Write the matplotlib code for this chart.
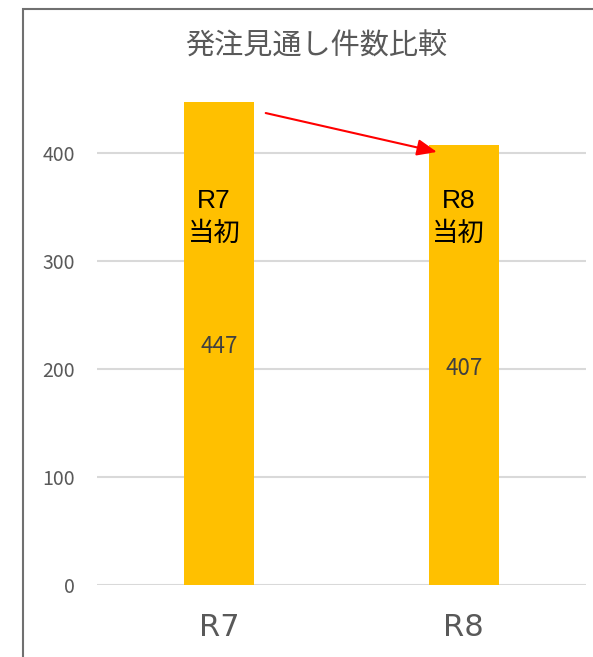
import matplotlib
matplotlib.use("Agg")
import matplotlib.pyplot as plt
from matplotlib.patches import Rectangle

plt.rcParams['font.family'] = ['Noto Sans CJK JP', 'DejaVu Sans']

categories = ["R7", "R8"]
values = [447, 407]
bar_notes = ["R7\n当初", "R8\n当初"]
title = "発注見通し件数比較"
yticks = [0, 100, 200, 300, 400]

W, H = 593, 657
fig = plt.figure(figsize=(W / 100, H / 100), dpi=100)
ax = fig.add_axes([97 / W, (H - 585) / H, 489 / W, (585 - 99) / H])

x = list(range(len(categories)))
ax.bar(x, values, width=0.285, color="#FFC000", zorder=2)
ax.set_xlim(-0.5, 1.5)
ax.set_ylim(0, 450)
ax.set_yticks(yticks)
ax.set_xticks(x)
ax.set_xticklabels(categories, fontsize=22, color="#595959",
                   family=['DejaVu Sans', 'Noto Sans CJK JP'])
ax.tick_params(axis="y", length=0, pad=16, labelsize=14, labelcolor="#595959")
ax.tick_params(axis="x", length=0, pad=20)
ax.grid(axis="y", color="#D9D9D9", linewidth=1.5, zorder=1)
for s in ax.spines.values():
    s.set_visible(False)

for xi, v in zip(x, values):
    ax.text(xi, v / 2 - 3, str(v), ha="center", va="center", fontsize=16,
            color="#404040", zorder=3)

for xi, note in zip(x, bar_notes):
    ax.text(xi - 0.022, 340, note, ha="center", va="center", fontsize=19,
            color="black", linespacing=1.45, zorder=3,
            family=['Liberation Sans', 'Noto Sans CJK JP'])

ax.annotate("", xy=(x[1] - 0.11, values[1] - 6), xytext=(x[0] + 0.19, values[0] - 10),
            arrowprops=dict(arrowstyle="-|>,head_length=1.2,head_width=0.5",
                            color="#FF0000", lw=1.5, shrinkA=0, shrinkB=0),
            zorder=4)

fig.text(316 / W, 1 - 47 / H, title, ha="center", va="center", fontsize=21, color="#595959")

# chart frame (partially visible)
fig.add_artist(Rectangle((23 / W, -0.05), 1.1, 1 - 9 / H + 0.05, transform=fig.transFigure,
                         fill=False, edgecolor="#707070", linewidth=1.5))

fig.savefig("out.png", dpi=100)
